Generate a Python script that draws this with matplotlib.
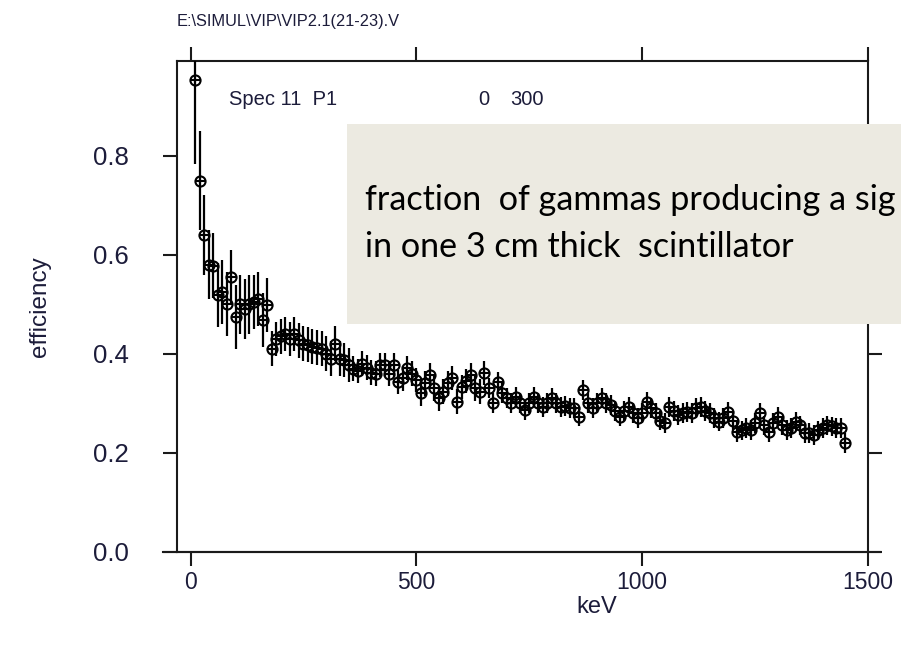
import numpy as np
import matplotlib
matplotlib.use("Agg")
import matplotlib.pyplot as plt
from matplotlib.patches import Rectangle

# ---------------- data ----------------
energy_kev = np.arange(10, 1460, 10)
efficiency = [
    0.953, 0.749, 0.640, 0.580, 0.578, 0.518, 0.525, 0.500, 0.555, 0.474,
    0.500, 0.490, 0.500, 0.505, 0.510, 0.468, 0.498, 0.410, 0.430, 0.435,
    0.440, 0.430, 0.440, 0.427, 0.420, 0.418, 0.414, 0.412, 0.410, 0.400,
    0.390, 0.420, 0.390, 0.387, 0.377, 0.370, 0.365, 0.380, 0.372, 0.362,
    0.360, 0.377, 0.377, 0.360, 0.377, 0.343, 0.350, 0.371, 0.360, 0.347,
    0.320, 0.340, 0.357, 0.330, 0.310, 0.323, 0.340, 0.351, 0.303, 0.333,
    0.345, 0.357, 0.330, 0.323, 0.361, 0.330, 0.300, 0.343, 0.320, 0.310,
    0.300, 0.313, 0.300, 0.286, 0.300, 0.313, 0.300, 0.293, 0.300, 0.310,
    0.300, 0.293, 0.295, 0.290, 0.290, 0.273, 0.327, 0.300, 0.290, 0.300,
    0.310, 0.300, 0.296, 0.285, 0.273, 0.285, 0.293, 0.280, 0.270, 0.280,
    0.303, 0.290, 0.280, 0.265, 0.260, 0.293, 0.285, 0.276, 0.280, 0.283,
    0.280, 0.290, 0.293, 0.285, 0.280, 0.270, 0.263, 0.270, 0.283, 0.265,
    0.242, 0.245, 0.250, 0.246, 0.260, 0.280, 0.255, 0.242, 0.260, 0.273,
    0.255, 0.246, 0.250, 0.263, 0.255, 0.240, 0.240, 0.235, 0.245, 0.250,
    0.255, 0.253, 0.250, 0.250, 0.219,
]
efficiency_err = (
    [0.17, 0.10, 0.08, 0.07, 0.065, 0.065, 0.065, 0.065, 0.055, 0.065,
     0.06, 0.06, 0.06, 0.055, 0.055, 0.055, 0.055]
    + [0.035] * 18
    + [0.025] * 30
    + [0.02] * 80
)

x_ticks = [0, 500, 1000, 1500]
y_ticks = [0.0, 0.2, 0.4, 0.6, 0.8]
y_tick_labels = ["0.0", "0.2", "0.4", "0.6", "0.8"]

title_text = "E:\\SIMUL\\VIP\\VIP2.1(21-23).V"
spec_text = "Spec 11  P1"
spec_lo = "0"
spec_hi = "300"
note_line1 = "fraction  of gammas producing a sig"
note_line2 = "in one 3 cm thick  scintillator"

# ---------------- figure ----------------
W, H = 901, 657
plt.rcParams["font.family"] = ["Liberation Sans", "DejaVu Sans"]
fig = plt.figure(figsize=(W / 100, H / 100), dpi=100)

def fx(px):
    return px / W

def fy(py):
    return 1 - py / H

left, right, top, bottom = 177, 868, 60.7, 551.7
ax = fig.add_axes([fx(left), fy(bottom), (right - left) / W, (bottom - top) / H])

ink = "#1a1a1a"
lab = "#1c1c3a"

ax.errorbar(energy_kev, efficiency, yerr=efficiency_err, fmt="none",
            ecolor="black", elinewidth=1.6, capsize=0, zorder=3)
ax.plot(energy_kev, efficiency, linestyle="none", marker="o", markersize=7.3,
        markerfacecolor="none", markeredgecolor="black", markeredgewidth=1.5, zorder=4)
ax.plot(energy_kev, efficiency, linestyle="none", marker="+", markersize=7.3,
        markeredgecolor="black", markeredgewidth=1.5, zorder=4)

ax.set_xlim(-30, 1500)
ax.set_ylim(0, 0.992)
ax.set_xticks(x_ticks)
ax.set_yticks(y_ticks)
ax.set_yticklabels(y_tick_labels)
ax.tick_params(axis="both", which="major", direction="out", length=10, width=1.5,
               color=ink, labelcolor=lab, top=True, right=True)
ax.tick_params(axis="y", pad=25, labelsize=18.5)
ax.tick_params(axis="x", pad=4, labelsize=16.5)
for s in ax.spines.values():
    s.set_linewidth(1.5)
    s.set_color(ink)

# extended bottom axis line (PAW style)
ax.plot([-0.02, 1.018], [0, 0], transform=ax.transAxes, color=ink, lw=1.5,
        clip_on=False, zorder=5)

ax.set_xlabel("keV", fontsize=17, color=lab, va="center")
ax.xaxis.set_label_coords((597 - left) / (right - left), (bottom - 607) / (bottom - top))
ax.set_ylabel("efficiency", fontsize=17.5, color=lab, va="center")
ax.yaxis.set_label_coords((40 - left) / (right - left), 0.5)

fig.text(fx(177), fy(26), title_text, fontsize=11.8, color=lab, ha="left", va="baseline")
fig.text(fx(229), fy(105), spec_text, fontsize=14.5, color=lab, ha="left", va="baseline")
fig.text(fx(478), fy(105), spec_lo, fontsize=14.5, color=lab, ha="left", va="baseline")
fig.text(fx(510), fy(105), spec_hi, fontsize=14.5, color=lab, ha="left", va="baseline")

# annotation box on top of everything
rect = Rectangle((fx(347), fy(324)), fx(W - 347) + 0.01, (324 - 124) / H,
                 transform=fig.transFigure, facecolor="#ECEAE1", edgecolor="none",
                 zorder=10)
fig.patches.append(rect)
fig.text(fx(365), fy(210), note_line1, fontsize=24.6, family=["Lato", "DejaVu Sans"],
         color="black", ha="left", va="baseline", zorder=11)
fig.text(fx(365), fy(257), note_line2, fontsize=24.6, family=["Lato", "DejaVu Sans"],
         color="black", ha="left", va="baseline", zorder=11)

fig.savefig("out.png", dpi=100)
